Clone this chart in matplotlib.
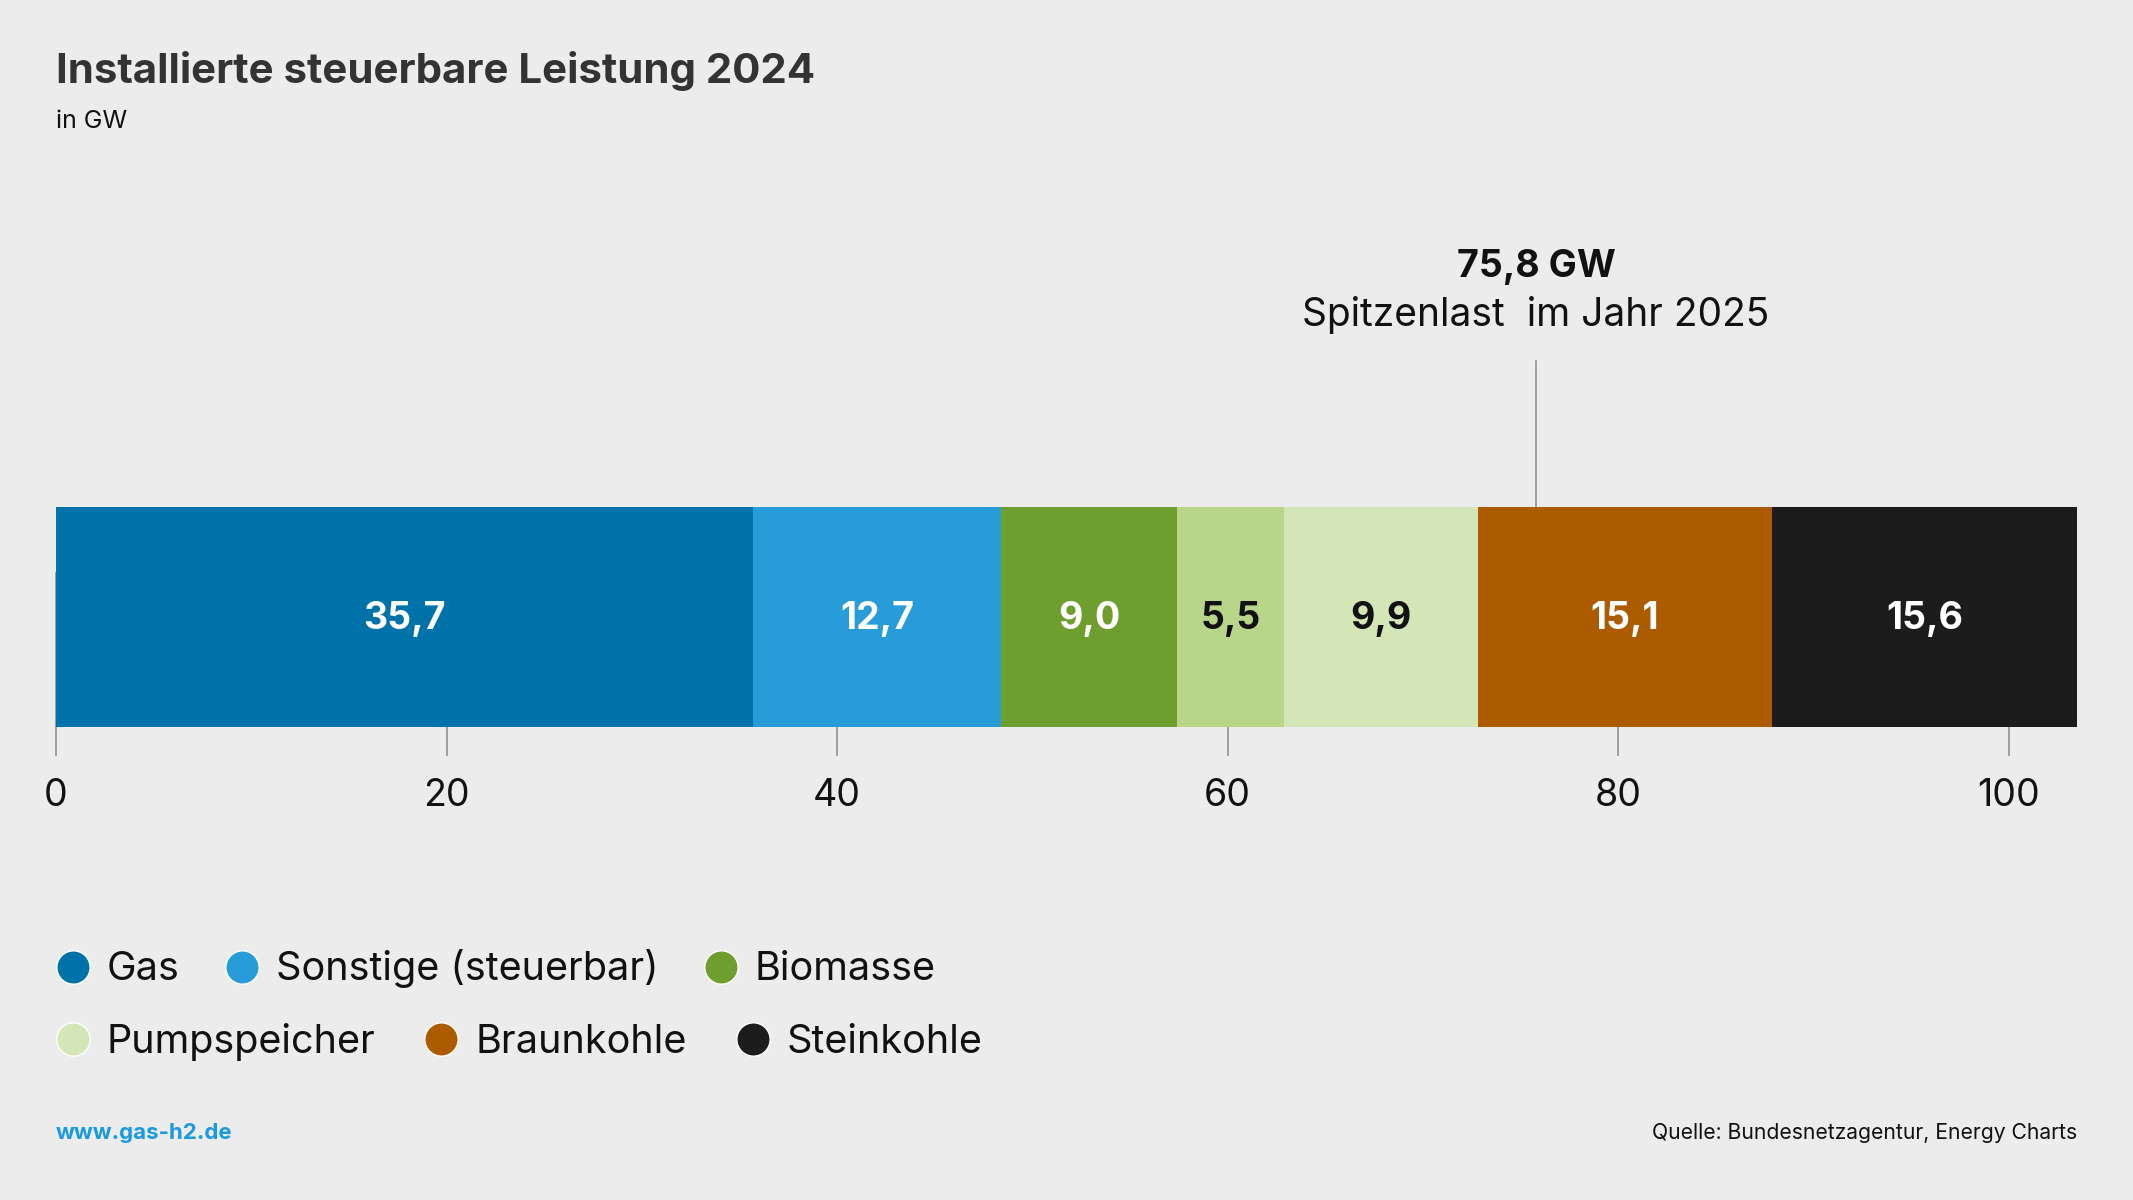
import matplotlib
matplotlib.use("Agg")
import matplotlib.pyplot as plt
from matplotlib.lines import Line2D

# ---------------------------- data ---------------------------- #
segment_values = [35.7, 12.7, 9.0, 5.5, 9.9, 15.1, 15.6]
segment_names = ["Gas", "Sonstige (steuerbar)", "Biomasse", None,
                 "Pumpspeicher", "Braunkohle", "Steinkohle"]
segment_colors = ["#0072aa", "#279cd9", "#6e9e2e", "#b8d58a",
                  "#d4e6b8", "#ad5b00", "#1c1c1c"]
label_colors = ["white", "white", "white", "#111111",
                "#111111", "white", "white"]
x_ticks = [0, 20, 40, 60, 80, 100]
peak_load = 75.8
peak_title = "75,8 GW"
peak_text = "Spitzenlast  im Jahr 2025"

legend_rows = [["Gas", "Sonstige (steuerbar)", "Biomasse"],
               ["Pumpspeicher", "Braunkohle", "Steinkohle"]]

BG = "#ececec"
W, H = 2133, 1200
FONT = ["Inter", "DejaVu Sans"]
plt.rcParams["font.family"] = FONT


def de(v):
    return f"{v:.1f}".replace(".", ",")


fig = plt.figure(figsize=(W / 100, H / 100), dpi=100, facecolor=BG)

# bar axes, placed in pixel units of the figure
bar_left, bar_right, bar_top, bar_bottom = 56, 2077, 507, 727
ax = fig.add_axes([bar_left / W, 1 - bar_bottom / H,
                   (bar_right - bar_left) / W, (bar_bottom - bar_top) / H])
ax.set_facecolor(BG)
total = sum(segment_values)
ax.set_xlim(0, total)
ax.set_ylim(0, 1)

start = 0
for val, col, lc in zip(segment_values, segment_colors, label_colors):
    ax.barh(0.5, val, left=start, height=1, color=col, linewidth=0, zorder=2)
    ax.text(start + val / 2, 0.49, de(val), ha="center", va="center",
            fontsize=27, fontweight="bold", color=lc, zorder=3)
    start += val

for s in ax.spines.values():
    s.set_visible(False)
ax.set_yticks([])
ax.set_xticks(x_ticks)
ax.set_xticklabels([str(t) for t in x_ticks])
ax.tick_params(axis="x", length=21, width=1.1, color="#8a8a8a",
               pad=16, labelsize=27, labelcolor="#111111")

# faint axis line at zero on the left edge
ax.plot([0, 0], [0, 0.7], color="#8a8a8a", lw=1.1, zorder=1, clip_on=False)

# peak-load marker
span = bar_bottom - bar_top
ax.plot([peak_load, peak_load], [1, 1 + (bar_top - 361) / span],
        color="#8a8a8a", lw=1.1, clip_on=False, zorder=1)
ax.text(peak_load, 1 + (bar_top - 267) / span, peak_title,
        ha="center", va="center", fontsize=27, fontweight="bold",
        color="#111111")
ax.text(peak_load, 1 + (bar_top - 315) / span, peak_text,
        ha="center", va="center", fontsize=28, color="#111111")

# titles
fig.text(56 / W, 1 - 83 / H, "Installierte steuerbare Leistung 2024",
         ha="left", va="baseline", fontsize=30.2, fontweight="bold",
         color="#333333")
fig.text(56 / W, 1 - 128 / H, "in GW", ha="left", va="baseline",
         fontsize=18, color="#111111")

# legend, two rows
color_of = {n: c for n, c in zip(segment_names, segment_colors) if n}
row_y = [969, 1042]
row_spacing = [1.13, 1.22]
for names, y, cs in zip(legend_rows, row_y, row_spacing):
    handles = [Line2D([], [], ls="none", marker="o", markersize=24,
                      markerfacecolor=color_of[n], markeredgecolor="white",
                      markeredgewidth=1.0) for n in names]
    leg = fig.legend(handles, names, loc="center left",
                     bbox_to_anchor=(55 / W, 1 - y / H), ncol=len(names),
                     frameon=False, fontsize=28.5, handlelength=0.9,
                     handletextpad=0.4, columnspacing=cs, borderpad=0,
                     borderaxespad=0)
    for t in leg.get_texts():
        t.set_color("#111111")

# footer
fig.text(56 / W, 1 - 1139 / H, "www.gas-h2.de", ha="left", va="baseline",
         fontsize=16, fontweight="bold", color="#1a9ae0")
fig.text(2077 / W, 1 - 1139 / H, "Quelle: Bundesnetzagentur, Energy Charts",
         ha="right", va="baseline", fontsize=15.2, color="#111111")

fig.savefig("out.png", dpi=100, facecolor=BG)
